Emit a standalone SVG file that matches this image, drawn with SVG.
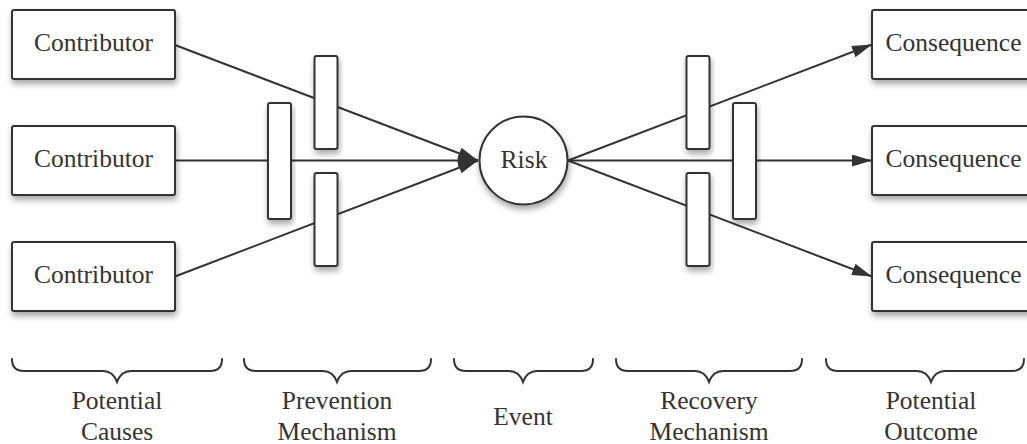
<svg xmlns="http://www.w3.org/2000/svg" width="1027" height="444" viewBox="0 0 1027 444">
  <style>
    .box { fill: #ffffff; stroke: #333333; stroke-width: 2; filter: url(#shadow); }
    .lbl { font-family: "Liberation Serif", "Times New Roman", serif; font-size: 25.5px; fill: #333333; text-anchor: middle; }
    .edge { fill: none; stroke: #333333; stroke-width: 2; marker-end: url(#arrow); }
    .edge-plain { fill: none; stroke: #333333; stroke-width: 2; }
    .brace { fill: none; stroke: #333333; stroke-width: 2; stroke-linecap: round; }
  </style>
  <defs>
    <filter id="shadow" x="-20%" y="-20%" width="140%" height="150%">
      <feDropShadow dx="1" dy="4" stdDeviation="3" flood-color="#000000" flood-opacity="0.35"/>
    </filter>
    <marker id="arrow" viewBox="0 0 20 12" refX="20" refY="6" markerWidth="20" markerHeight="12" markerUnits="userSpaceOnUse" orient="auto">
      <path d="M0,0 L20,6 L0,12 Z" fill="#333333"/>
    </marker>
  </defs>

  <rect width="1027" height="444" fill="#ffffff"/>

  <!-- connectors -->
  <g id="connectors">
    <line class="edge" x1="175" y1="45" x2="478" y2="160.5"/>
    <line class="edge" x1="175" y1="160.5" x2="478" y2="160.5"/>
    <line class="edge" x1="175" y1="276.5" x2="478" y2="160.5"/>
    <line class="edge" x1="568" y1="160.5" x2="872" y2="44.5"/>
    <line class="edge" x1="568" y1="160.5" x2="872" y2="160.5"/>
    <line class="edge" x1="568" y1="160.5" x2="872" y2="276.5"/>
  </g>

  <!-- causes -->
  <g id="contributor-1">
    <rect class="box" x="12" y="10" width="163" height="69" rx="2"/>
    <text class="lbl" x="93.5" y="51">Contributor</text>
  </g>
  <g id="contributor-2">
    <rect class="box" x="12" y="126" width="163" height="69" rx="2"/>
    <text class="lbl" x="93.5" y="166.5">Contributor</text>
  </g>
  <g id="contributor-3">
    <rect class="box" x="12" y="242" width="163" height="69" rx="2"/>
    <text class="lbl" x="93.5" y="282.5">Contributor</text>
  </g>

  <!-- prevention barriers -->
  <g id="prevention-1">
    <rect class="box" x="314.5" y="56" width="23" height="93" rx="2"/>
  </g>
  <g id="prevention-2">
    <rect class="box" x="268" y="103" width="23" height="116" rx="2"/>
  </g>
  <g id="prevention-3">
    <rect class="box" x="314.5" y="173" width="23" height="93" rx="2"/>
  </g>

  <!-- event -->
  <g id="risk">
    <circle class="box" cx="523.5" cy="160.5" r="44"/>
    <text class="lbl" x="524" y="168">Risk</text>
  </g>

  <!-- recovery barriers -->
  <g id="recovery-1">
    <rect class="box" x="686.5" y="56" width="23" height="93" rx="2"/>
  </g>
  <g id="recovery-2">
    <rect class="box" x="733" y="103" width="23" height="116" rx="2"/>
  </g>
  <g id="recovery-3">
    <rect class="box" x="686.5" y="173" width="23" height="93" rx="2"/>
  </g>

  <!-- outcomes -->
  <g id="consequence-1">
    <rect class="box" x="872" y="10" width="163" height="69" rx="2"/>
    <text class="lbl" x="953.5" y="51">Consequence</text>
  </g>
  <g id="consequence-2">
    <rect class="box" x="872" y="126" width="163" height="69" rx="2"/>
    <text class="lbl" x="953.5" y="166.5">Consequence</text>
  </g>
  <g id="consequence-3">
    <rect class="box" x="872" y="242" width="163" height="69" rx="2"/>
    <text class="lbl" x="953.5" y="282.5">Consequence</text>
  </g>

  <!-- stage braces and captions -->
  <g id="stage-causes">
    <path class="brace" d="M12,359 Q12,371 24,371 L103,371 Q113,371 117,382 Q121,371 131,371 L210,371 Q222,371 222,359"/>
    <text class="lbl" x="117" y="409">Potential</text>
    <text class="lbl" x="117" y="440">Causes</text>
  </g>
  <g id="stage-prevention">
    <path class="brace" d="M244,359 Q244,371 256,371 L323,371 Q333,371 337,382 Q341,371 351,371 L419,371 Q431,371 431,359"/>
    <text class="lbl" x="337" y="409">Prevention</text>
    <text class="lbl" x="337" y="440">Mechanism</text>
  </g>
  <g id="stage-event">
    <path class="brace" d="M454,359 Q454,371 466,371 L509,371 Q519,371 523,382 Q527,371 537,371 L581,371 Q593,371 593,359"/>
    <text class="lbl" x="523" y="424.5">Event</text>
  </g>
  <g id="stage-recovery">
    <path class="brace" d="M616,359 Q616,371 628,371 L695,371 Q705,371 709,382 Q713,371 723,371 L790,371 Q802,371 802,359"/>
    <text class="lbl" x="709" y="409">Recovery</text>
    <text class="lbl" x="709" y="440">Mechanism</text>
  </g>
  <g id="stage-outcome">
    <path class="brace" d="M826,359 Q826,371 838,371 L917,371 Q927,371 931,382 Q935,371 945,371 L1012,371 Q1024,371 1024,359"/>
    <text class="lbl" x="931" y="409">Potential</text>
    <text class="lbl" x="931" y="440">Outcome</text>
  </g>
</svg>
